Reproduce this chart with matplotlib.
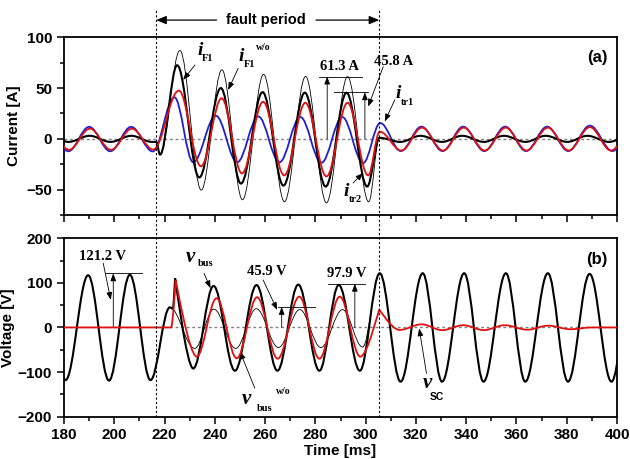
import matplotlib
matplotlib.use("Agg")
import matplotlib.pyplot as plt
from matplotlib.path import Path
from matplotlib.patches import PathPatch
from matplotlib.lines import Line2D
from matplotlib.ticker import MultipleLocator
import matplotlib.transforms as mtransforms

# ---------------- data (extrema) ----------------
# Panel (a): currents [A] vs time [ms]
itr1_t = [173.4, 181.7, 190.0, 198.4, 206.7, 215.3, 223.9, 231.4, 240.4, 248.9, 257.3, 265.7, 274.0,
          282.4, 290.7, 299.0, 305.8, 314.0, 322.2, 330.6, 338.8, 347.2, 355.5, 363.8, 372.2, 380.6,
          389.2, 398.2, 406.5]
itr1_v = [11.8, -12.2, 11.8, -12.2, 11.8, -12.4, 41.0, -23.0, 22.7, -23.0, 22.0, -23.0, 21.5,
          -23.5, 21.5, -23.8, 15.5, -12.0, 12.0, -12.0, 12.0, -12.0, 12.0, -12.0, 12.0, -12.0,
          13.0, -12.0, 12.0]

itr2_t = [173.7, 182.0, 190.3, 198.7, 207.0, 215.5, 225.7, 234.5, 242.7, 250.8, 259.2, 267.6, 276.0,
          284.4, 292.8, 301.0, 305.6, 314.2, 322.4, 330.8, 339.0, 347.4, 355.7, 364.0, 372.5, 380.8,
          389.2, 397.6, 406.0]
itr2_v = [10.0, -10.8, 10.0, -10.8, 10.0, -10.5, 47.5, -27.0, 40.0, -34.0, 36.5, -36.0, 35.5,
          -37.0, 35.5, -36.0, 7.0, -11.5, 11.0, -11.5, 11.0, -11.5, 11.0, -11.5, 11.0, -11.5,
          11.5, -11.5, 11.0]

iF1_t = [173.5, 181.8, 190.2, 198.5, 206.8, 215.0, 216.7, 218.2, 225.0, 233.8, 242.4, 250.4, 259.0,
         267.3, 275.8, 284.1, 292.4, 300.6, 305.5, 313.8, 321.8, 330.4, 338.4, 347.0, 355.0, 363.6,
         371.6, 380.2, 388.2, 396.8, 405.0]
iF1_v = [3.0, -3.0, 3.0, -3.0, 3.0, -3.0, -3.0, -15.5, 72.5, -38.0, 50.0, -44.0, 46.0,
         -46.0, 45.5, -47.0, 45.5, -47.0, 1.0, -3.0, 3.0, -3.0, 3.0, -3.0, 3.0, -3.0,
         3.0, -3.0, 3.0, -3.0, 3.0]

iF1wo_t = [218.2, 226.1, 234.6, 242.8, 251.0, 259.4, 267.7, 276.1, 284.4, 292.8, 301.2, 305.5]
iF1wo_v = [-15.5, 87.0, -50.5, 68.0, -60.0, 63.5, -62.0, 61.5, -63.0, 61.3, -62.0, 1.0]

# Panel (b): voltages [V]
vbus_t = [172.3, 180.6, 189.6, 197.9, 206.2, 214.4, 222.1, 223.3, 224.2, 231.4, 239.5, 248.0, 256.6,
          264.9, 273.2, 281.6, 289.3, 297.7, 305.6, 313.9, 322.7, 330.4, 339.2, 346.9, 355.8, 363.5,
          372.5, 380.5, 389.1, 397.8, 406.1]
vbus_v = [117, -118, 117, -119, 118, -118, 45, 42, 110, -92, 93, -97, 95,
          -97, 96, -97, 95, -97, 121.5, -121.5, 121.5, -121.5, 121.5, -121.5, 121.5, -121.5,
          121.5, -121.5, 120, -121.5, 121.5]

vsc_t = [180.0, 222.6, 224.4, 232.8, 240.7, 248.7, 256.8, 265.0, 273.6, 281.6, 289.7, 297.9, 305.4,
         313.4, 322.2, 330.5, 338.8, 347.0, 355.3, 364.3, 372.6, 381.5, 390.0, 400.0]
vsc_v = [0, 0, 106, -65.5, 65.5, -69, 67.7, -70, 69, -70, 69, -65.5, 40,
         -5.6, 7, -6, 5, -6, 5, -5, 4, -4, 0, 0]

vbuswo_t = [222.1, 232.0, 239.6, 248.3, 256.5, 265.3, 273.8, 282.2, 290.8, 298.8, 305.6]
vbuswo_v = [45, -47, 41, -47, 42, -45, 40, -45, 40, -44, 121.5]

# indices of cusp-like (sharp) vertices
vbus_sharp = [8]
vsc_sharp = [2, 12]

fault_start, fault_end = 216.7, 305.4
xticks = [180, 200, 220, 240, 260, 280, 300, 320, 340, 360, 380, 400]

# ---------------- styles ----------------
BLUE = "#1f1fd0"
RED = "#e01010"
SANS = "Liberation Sans"
SERIF = "Liberation Serif"
plt.rcParams["font.family"] = [SANS, "DejaVu Sans"]


def curve(ax, ts, vs, sharp=(), **kw):
    """Smooth curve through extrema with horizontal tangents (cubic Bezier)."""
    a = 0.3634
    verts = [(ts[0], vs[0])]
    codes = [Path.MOVETO]
    for i in range(1, len(ts)):
        t0, v0, t1, v1 = ts[i - 1], vs[i - 1], ts[i], vs[i]
        d = t1 - t0
        a0 = 0.02 if (i - 1) in sharp else a
        a1 = 0.02 if i in sharp else a
        verts += [(t0 + a0 * d, v0), (t1 - a1 * d, v1), (t1, v1)]
        codes += [Path.CURVE4] * 3
    p = PathPatch(Path(verts, codes), facecolor="none", **kw)
    ax.add_patch(p)


fig = plt.figure(figsize=(6.30, 4.59), dpi=100)
ax1 = fig.add_axes([0.1016, 0.5316, 0.8778, 0.3871])
ax2 = fig.add_axes([0.1016, 0.0922, 0.8778, 0.3888])

for ax in (ax1, ax2):
    ax.set_xlim(180, 400)
    ax.axhline(0, color="#808080", lw=1.0, ls=(0, (2, 2)), zorder=1)
    for s in ax.spines.values():
        s.set_linewidth(1.3)
    ax.xaxis.set_major_locator(MultipleLocator(20))
    ax.xaxis.set_minor_locator(MultipleLocator(10))
    ax.tick_params(which="both", direction="out", top=False, right=False, width=1.1)
    ax.tick_params(which="major", length=5)
    ax.tick_params(which="minor", length=3)

ax1.set_ylim(-75, 100)
ax1.set_yticks([-50, 0, 50, 100])
ax1.yaxis.set_minor_locator(MultipleLocator(25))
ax1.tick_params(axis="x", labelbottom=False)
ax2.set_ylim(-200, 200)
ax2.set_yticks([-200, -100, 0, 100, 200])
ax2.yaxis.set_minor_locator(MultipleLocator(50))
ax2.set_xticks(xticks)

for ax in (ax1, ax2):
    for lab in ax.get_xticklabels() + ax.get_yticklabels():
        lab.set_fontweight("bold")
        lab.set_fontsize(11)

ax1.set_ylabel("Current [A]", fontsize=11, fontweight="bold")
ax2.set_ylabel("Voltage [V]", fontsize=11, fontweight="bold")
ax1.yaxis.set_label_coords(-0.078, 0.5)
ax2.yaxis.set_label_coords(-0.088, 0.5)
ax2.set_xlabel("Time [ms]", fontsize=11, fontweight="bold", labelpad=1)

# ---------------- curves ----------------
curve(ax1, iF1wo_t, iF1wo_v, edgecolor="black", lw=0.6, zorder=2)
curve(ax1, itr1_t, itr1_v, edgecolor=BLUE, lw=1.3, zorder=3)
curve(ax1, iF1_t, iF1_v, edgecolor="black", lw=1.5, zorder=4)
curve(ax1, itr2_t, itr2_v, edgecolor=RED, lw=1.3, zorder=5)

curve(ax2, vbuswo_t, vbuswo_v, edgecolor="black", lw=0.6, zorder=2)
curve(ax2, vbus_t, vbus_v, sharp=vbus_sharp, edgecolor="black", lw=1.5, zorder=3)
curve(ax2, vsc_t, vsc_v, sharp=vsc_sharp, edgecolor=RED, lw=1.3, zorder=4)

# ---------------- fault period markers ----------------
blend = mtransforms.blended_transform_factory(ax2.transData, fig.transFigure)
for xf in (fault_start, fault_end):
    fig.add_artist(Line2D([xf, xf], [0.0922, 0.978], transform=blend, color="black",
                          lw=0.8, ls=(0, (2, 2)), zorder=10))

ap_big = dict(arrowstyle="-|>,head_length=0.6,head_width=0.25", color="black", lw=0.9,
              shrinkA=0, shrinkB=0)
tb = mtransforms.blended_transform_factory(ax1.transData, ax1.transAxes)
yf = 1.097
ax1.annotate("", xy=(fault_start, yf), xytext=(240.7, yf), xycoords=tb, textcoords=tb,
             arrowprops=ap_big, annotation_clip=False)
ax1.annotate("", xy=(fault_end, yf), xytext=(280.2, yf), xycoords=tb, textcoords=tb,
             arrowprops=ap_big, annotation_clip=False)
ax1.text(260.4, yf, "fault period", transform=tb, ha="center", va="center",
         fontsize=10.5, fontweight="bold", clip_on=False)

# ---------------- annotations ----------------
ap = dict(arrowstyle="-|>,head_length=0.45,head_width=0.17", color="black", lw=0.6,
          shrinkA=0, shrinkB=0)


def arrow(ax, x0, y0, x1, y1):
    ax.annotate("", xy=(x1, y1), xytext=(x0, y0), arrowprops=ap)


def hline(ax, y, x0, x1):
    ax.plot([x0, x1], [y, y], color="black", lw=0.6, zorder=6)


def main_sym(ax, x, y, s, size=14):
    ax.text(x, y, s, fontsize=size, fontweight="bold", fontstyle="italic", family=SERIF,
            ha="center", va="center", zorder=7)


def small(ax, x, y, s, size=7.5, family=SERIF):
    ax.text(x, y, s, fontsize=size, fontweight="bold", family=family,
            ha="center", va="center", zorder=7)


def val(ax, x, y, s):
    ax.text(x, y, s, fontsize=10.5, fontweight="bold", family=SERIF,
            ha="center", va="center", zorder=7)


# panel (a)
main_sym(ax1, 234.1, 87.4, "i")
small(ax1, 237.0, 79.4, "F1")
arrow(ax1, 232.1, 72.8, 227.4, 58.1)
main_sym(ax1, 250.6, 80.9, "i")
small(ax1, 253.8, 72.8, "F1")
small(ax1, 259.3, 89.8, "w/o", size=7)
arrow(ax1, 249.3, 69.5, 245.3, 48.2)

val(ax1, 289.7, 71.1, "61.3 A")
hline(ax1, 61.3, 281.4, 298.4)
arrow(ax1, 284.7, 0, 284.7, 61.3)

val(ax1, 311.3, 76.0, "45.8 A")
hline(ax1, 45.8, 287.5, 301.0)
arrow(ax1, 299.7, 0, 299.7, 45.8)
arrow(ax1, 307.0, 71.1, 301.0, 31.8)

main_sym(ax1, 312.9, 44.3, "i")
small(ax1, 316.5, 35.8, "tr1")
arrow(ax1, 311.6, 38.4, 307.6, 17.1)

main_sym(ax1, 292.4, -51.7, "i")
small(ax1, 295.8, -60.1, "tr2")
arrow(ax1, 295.0, -43.4, 299.0, -33.6)

ax1.text(392, 80.4, "(a)", fontsize=12, fontweight="bold", ha="center", va="center")

# panel (b)
val(ax2, 195.2, 158.8, "121.2 V")
hline(ax2, 121.2, 196.3, 210.9)
arrow(ax2, 199.6, 0, 199.6, 121.2)
arrow(ax2, 195.6, 144, 198.6, 61.7)

main_sym(ax2, 230.4, 158.8, "v", size=15)
small(ax2, 236.3, 143.9, "bus")
arrow(ax2, 235.7, 121.5, 238.3, 87.9)

main_sym(ax2, 252.6, -161, "v", size=15)
small(ax2, 259.9, -181, "bus")
small(ax2, 267.2, -144, "w/o", size=7)
arrow(ax2, 255.9, -136, 250.0, -54)

val(ax2, 260.8, 125, "45.9 V")
hline(ax2, 45.9, 265.2, 279.8)
arrow(ax2, 266.6, 0, 266.6, 45.9)
arrow(ax2, 259.2, 106.5, 264.8, 39.2)

val(ax2, 292.4, 121.5, "97.9 V")
hline(ax2, 97.9, 285.1, 299.7)
arrow(ax2, 295.7, 0, 295.7, 97.9)

main_sym(ax2, 324.5, -125, "v", size=15)
small(ax2, 328.4, -155, "SC", size=7.5, family=SANS)
arrow(ax2, 324.2, -103, 321.3, -2)

ax2.text(392, 153, "(b)", fontsize=12, fontweight="bold", ha="center", va="center")

fig.savefig("out.png", dpi=100)
